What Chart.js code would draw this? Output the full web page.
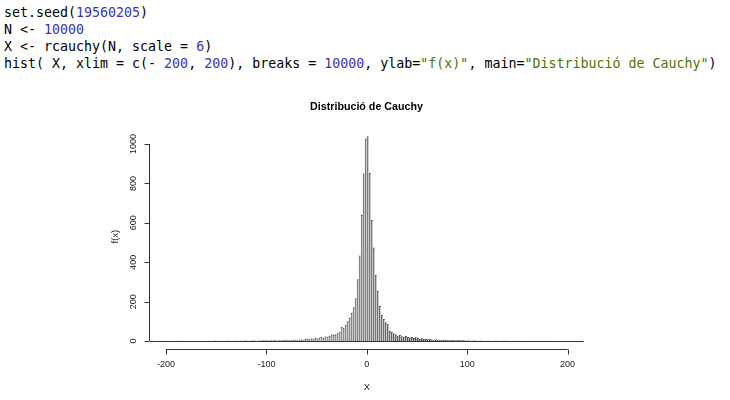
<!DOCTYPE html>
<html>
<head>
<meta charset="utf-8">
<script src="https://cdn.jsdelivr.net/npm/chart.js@4.4.0/dist/chart.umd.min.js"></script>
<style>
    html, body { margin: 0; padding: 0; background: #fff; }
    body { width: 730px; height: 400px; position: relative; overflow: hidden; }
    #code {
        position: absolute; left: 4px; top: 4px; margin: 0;
        font-family: "DejaVu Sans Mono", monospace; font-size: 13.3px; line-height: 17px;
        color: #000;
    }
    .num { color: #3c32b4; }
    .str { color: #4d7300; }
    #histChart { position: absolute; left: 0; top: 0; }
</style>
</head>
<body>
<pre id="code">set.seed(<span class="num">19560205</span>)
N &lt;- <span class="num">10000</span>
X &lt;- rcauchy(N, scale = <span class="num">6</span>)
hist( X, xlim = c(- <span class="num">200</span>, <span class="num">200</span>), breaks = <span class="num">10000</span>, ylab=<span class="str">"f(x)"</span>, main=<span class="str">"Distribució de Cauchy"</span>)</pre>
<canvas id="histChart" width="730" height="400"></canvas>
<script>
// Histogram bins of width 2, starting at the left edge of the visible range
const firstBreak = -216;
const binWidth = 2;

// counts, left to right
const leftTail = [1, 2, 0, 0, 1, 2, 0, 1, 0, 0, 2, 1, 0, 1, 2, 1, 0, 0, 1, 0,
    0, 1, 2, 0, 0, 1, 0, 0, 2, 1, 1, 0, 3, 1, 2, 1, 0, 2, 3, 1,
    2, 2, 3, 1, 2, 3, 2, 4, 3, 2, 3, 4, 3, 2, 4, 3, 5, 4];          // -215 .. -101
const leftShoulder = [4, 3, 5, 4, 6, 3, 5, 4, 6, 5, 7, 5, 6, 8, 6, 7, 8, 9, 7, 10,
    13, 11, 14, 12, 16, 14, 18, 20, 17, 24, 22, 27];                 // -99 .. -37
const core = [35, 30, 35, 39, 47, 72, 68, 81, 100, 119, 144, 171, 217, 313, 434, 640, 850, 1028,
    1040, 853, 615, 475, 336, 254, 178, 132, 112, 95, 88, 51, 47, 39, 34, 28, 30, 24];   // -35 .. 35
const rightShoulder = [22, 25, 20, 18, 21, 15, 19, 16, 12, 14, 11, 10, 9, 11, 8, 7, 9, 6, 7, 5,
    6, 7, 5, 4, 6, 5, 4, 5, 6, 4, 5, 3];                             // 37 .. 99
const rightTail = [4, 3, 2, 4, 3, 2, 3, 3, 2, 1, 3, 2, 2, 1, 3, 2, 1, 2, 3, 1,
    2, 1, 0, 2, 1, 1, 2, 0, 1, 2, 1, 1, 0, 2, 1, 1, 0, 2, 1, 1,
    0, 1, 0, 1, 2, 0, 0, 1, 1, 0, 0, 1, 0, 0, 0, 2, 0, 1];          // 101 .. 215

const xTicks = [-200, -100, 0, 100, 200];
const yTicks = [0, 200, 400, 600, 800, 1000];

const counts = [].concat(leftTail, leftShoulder, core, rightShoulder, rightTail);
const lastBreak = firstBreak + counts.length * binWidth;
const points = counts.map((c, i) => ({ x: firstBreak + binWidth * (i + 0.5), y: c }));

// R style axes, title and labels
const rAxes = {
    id: 'rAxes',
    afterDatasetsDraw(chart) {
        const { ctx, scales: { x, y } } = chart;
        ctx.save();
        ctx.strokeStyle = '#333';
        ctx.fillStyle = '#222';
        ctx.lineWidth = 1;

        // zero-height bars form the baseline
        const y0 = Math.round(y.getPixelForValue(0)) + 0.5;
        ctx.beginPath();
        ctx.moveTo(x.getPixelForValue(firstBreak), y0);
        ctx.lineTo(x.getPixelForValue(lastBreak), y0);
        ctx.stroke();

        // x axis
        const ax = Math.round(y.getPixelForValue(y.min)) + 0.5;
        ctx.beginPath();
        ctx.moveTo(x.getPixelForValue(xTicks[0]), ax);
        ctx.lineTo(x.getPixelForValue(xTicks[xTicks.length - 1]), ax);
        xTicks.forEach(t => {
            const px = Math.round(x.getPixelForValue(t)) + 0.5;
            ctx.moveTo(px, ax);
            ctx.lineTo(px, ax + 5);
        });
        ctx.stroke();
        ctx.font = '9px "Liberation Sans", Arial, sans-serif';
        ctx.textAlign = 'center';
        ctx.textBaseline = 'middle';
        xTicks.forEach(t => ctx.fillText(String(t), x.getPixelForValue(t), ax + 15.5));

        // y axis
        const ay = Math.round(x.getPixelForValue(x.min)) - 0.5;
        ctx.beginPath();
        ctx.moveTo(ay, y.getPixelForValue(yTicks[0]));
        ctx.lineTo(ay, y.getPixelForValue(yTicks[yTicks.length - 1]));
        yTicks.forEach(t => {
            const py = Math.round(y.getPixelForValue(t)) + 0.5;
            ctx.moveTo(ay, py);
            ctx.lineTo(ay - 5, py);
        });
        ctx.stroke();
        yTicks.forEach(t => {
            ctx.save();
            ctx.translate(ay - 16, y.getPixelForValue(t));
            ctx.rotate(-Math.PI / 2);
            ctx.fillText(String(t), 0, 0);
            ctx.restore();
        });

        // axis titles
        ctx.font = '9.5px "Liberation Sans", Arial, sans-serif';
        ctx.fillText('X', (x.getPixelForValue(xTicks[0]) + x.getPixelForValue(xTicks[xTicks.length - 1])) / 2, 387);
        ctx.save();
        ctx.translate(115, (chart.chartArea.top + chart.chartArea.bottom) / 2 - 2);
        ctx.rotate(-Math.PI / 2);
        ctx.fillText('f(x)', 0, 0);
        ctx.restore();

        // main title
        ctx.fillStyle = '#000';
        ctx.font = 'bold 10.7px "Liberation Sans", Arial, sans-serif';
        ctx.fillText('Distribució de Cauchy', 366.5, 107.5);
        ctx.restore();
    }
};

const chart = new Chart(document.getElementById('histChart'), {
    type: 'bar',
    data: {
        datasets: [{
            data: points,
            backgroundColor: '#b4b4b4',
            borderColor: '#4a4a4a',
            borderWidth: { left: 1, top: 1, right: 0, bottom: 0 },
            borderSkipped: false,
            barPercentage: 1,
            categoryPercentage: 1,
            inflateAmount: 0
        }]
    },
    plugins: [rAxes],
    options: {
        responsive: false,
        devicePixelRatio: 1,
        animation: false,
        layout: { padding: { left: 150, right: 146.4, top: 127.9, bottom: 50.7 } },
        plugins: { legend: { display: false }, tooltip: { enabled: false } },
        scales: {
            x: { type: 'linear', offset: false, min: firstBreak, max: lastBreak, display: false },
            y: { min: -42, max: 1082, display: false }
        }
    }
});
</script>
</body>
</html>
